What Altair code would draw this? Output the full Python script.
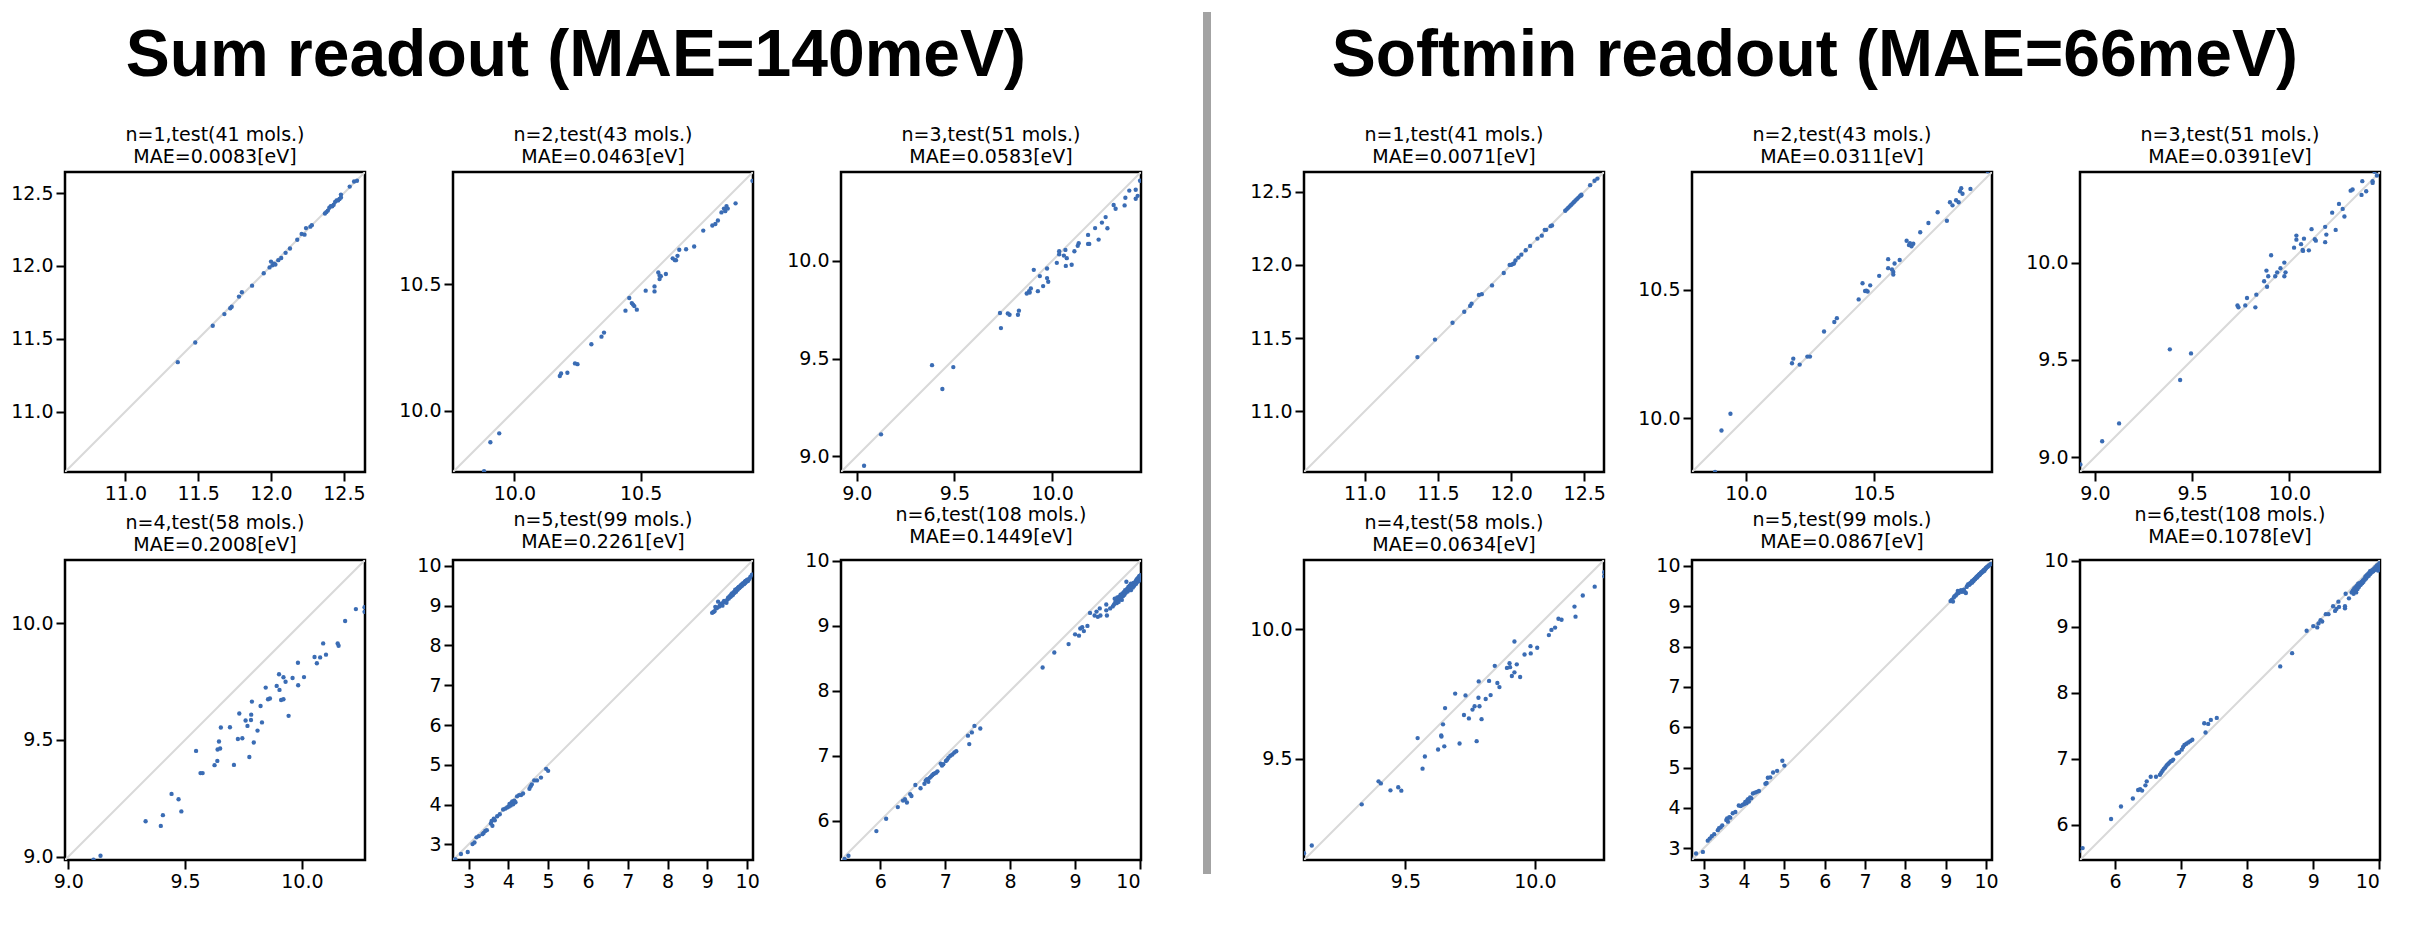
import altair as alt
import pandas as pd

# true energies per test set (shared by both readouts), predictions per readout
x_n1 = [11.36, 11.48, 11.60, 11.68, 11.72, 11.73, 11.78, 11.80, 11.87, 11.95, 11.99, 12.00, 12.01, 12.02,
        12.03, 12.05, 12.07, 12.10, 12.13, 12.18, 12.21, 12.23, 12.24, 12.27, 12.28, 12.37, 12.38, 12.39,
        12.40, 12.41, 12.42, 12.43, 12.44, 12.45, 12.46, 12.47, 12.48, 12.48, 12.54, 12.57, 12.59]
sum_n1 = [11.34, 11.475, 11.59, 11.67, 11.71, 11.72, 11.79, 11.82, 11.865, 11.95, 11.99, 12.03, 12.005, 12.015,
          12.01, 12.04, 12.055, 12.09, 12.12, 12.18, 12.22, 12.215, 12.26, 12.27, 12.28, 12.36, 12.37, 12.38,
          12.40, 12.41, 12.41, 12.42, 12.44, 12.45, 12.45, 12.46, 12.47, 12.49, 12.545, 12.58, 12.585]
soft_n1 = [11.37, 11.49, 11.605, 11.68, 11.72, 11.735, 11.795, 11.80, 11.86, 11.945, 12.00, 12.00, 12.005, 12.01,
           12.03, 12.05, 12.07, 12.10, 12.13, 12.18, 12.20, 12.24, 12.24, 12.265, 12.27, 12.37, 12.38, 12.39,
           12.40, 12.41, 12.42, 12.43, 12.44, 12.45, 12.46, 12.47, 12.475, 12.48, 12.545, 12.575, 12.59]

x_n2 = [9.88, 9.905, 9.94, 10.18, 10.185, 10.21, 10.24, 10.25, 10.305, 10.345, 10.355, 10.44, 10.455, 10.465,
        10.47, 10.475, 10.485, 10.52, 10.555, 10.555, 10.57, 10.575, 10.575, 10.58, 10.60, 10.627, 10.636, 10.64,
        10.646, 10.653, 10.68, 10.712, 10.748, 10.784, 10.796, 10.806, 10.82, 10.83, 10.835, 10.84, 10.845,
        10.876, 10.943]
sum_n2 = [9.76, 9.875, 9.91, 10.137, 10.147, 10.15, 10.187, 10.184, 10.263, 10.293, 10.309, 10.396, 10.446, 10.426,
          10.42, 10.414, 10.40, 10.475, 10.492, 10.472, 10.547, 10.535, 10.521, 10.532, 10.541, 10.603, 10.596,
          10.596, 10.613, 10.637, 10.639, 10.65, 10.713, 10.733, 10.739, 10.753, 10.785, 10.80, 10.79, 10.81,
          10.80, 10.821, 10.91]
soft_n2 = [9.79, 9.952, 10.017, 10.214, 10.232, 10.209, 10.24, 10.24, 10.338, 10.375, 10.39, 10.463, 10.526, 10.496,
           10.497, 10.494, 10.518, 10.555, 10.62, 10.585, 10.58, 10.57, 10.56, 10.603, 10.617, 10.692, 10.675,
           10.682, 10.67, 10.68, 10.725, 10.761, 10.803, 10.77, 10.842, 10.83, 10.85, 10.842, 10.885, 10.897,
           10.875, 10.894, 10.963]

x_n3 = [8.925, 9.037, 9.124, 9.385, 9.438, 9.494, 9.733, 9.738, 9.773, 9.782, 9.825, 9.83, 9.87, 9.882, 9.885,
        9.906, 9.891, 9.927, 9.937, 9.954, 9.974, 9.974, 9.98, 10.024, 10.036, 10.036, 10.06, 10.068, 10.07,
        10.075, 10.10, 10.114, 10.131, 10.136, 10.184, 10.19, 10.184, 10.22, 10.238, 10.255, 10.274, 10.283,
        10.315, 10.325, 10.371, 10.375, 10.395, 10.428, 10.428, 10.438, 10.45]
sum_n3 = [8.90, 8.951, 9.112, 9.466, 9.344, 9.456, 9.733, 9.656, 9.731, 9.724, 9.724, 9.745, 9.833, 9.845, 9.838,
          9.954, 9.859, 9.845, 9.922, 9.871, 9.961, 9.912, 9.893, 9.99, 10.049, 10.034, 10.027, 10.056, 9.974,
          10.014, 9.98, 10.049, 10.077, 10.09, 10.087, 10.087, 10.133, 10.168, 10.109, 10.196, 10.224, 10.167,
          10.286, 10.267, 10.284, 10.323, 10.36, 10.364, 10.318, 10.333, 10.41]
soft_n3 = [8.962, 9.081, 9.173, 9.554, 9.396, 9.533, 9.78, 9.77, 9.78, 9.818, 9.77, 9.835, 9.904, 9.959, 9.876,
           10.038, 9.93, 9.93, 9.95, 9.971, 10.0, 9.93, 9.95, 10.077, 10.139, 10.118, 10.095, 10.065, 10.06,
           10.123, 10.063, 10.172, 10.12, 10.113, 10.105, 10.144, 10.184, 10.257, 10.168, 10.302, 10.276, 10.237,
           10.37, 10.376, 10.348, 10.419, 10.367, 10.419, 10.41, 10.467, 10.448]

x_n4 = [9.108, 9.138, 9.331, 9.396, 9.405, 9.442, 9.472, 9.484, 9.547, 9.566, 9.575, 9.626, 9.638, 9.639, 9.645,
        9.65, 9.653, 9.692, 9.709, 9.726, 9.745, 9.732, 9.759, 9.767, 9.775, 9.782, 9.783, 9.786, 9.794, 9.81,
        9.823, 9.829, 9.845, 9.855, 9.863, 9.892, 9.902, 9.904, 9.911, 9.921, 9.921, 9.93, 9.943, 9.96, 9.983,
        9.984, 10.009, 10.054, 10.064, 10.078, 10.091, 10.103, 10.153, 10.157, 10.185, 10.231, 10.268, 10.268]
sum_n4 = [8.987, 9.004, 9.152, 9.132, 9.178, 9.269, 9.246, 9.194, 9.453, 9.358, 9.358, 9.392, 9.41, 9.459, 9.493,
          9.463, 9.553, 9.554, 9.393, 9.504, 9.507, 9.613, 9.583, 9.56, 9.427, 9.585, 9.608, 9.664, 9.489, 9.54,
          9.645, 9.575, 9.724, 9.674, 9.677, 9.731, 9.781, 9.714, 9.671, 9.674, 9.768, 9.749, 9.603, 9.765, 9.83,
          9.734, 9.769, 9.855, 9.828, 9.853, 9.913, 9.865, 9.913, 9.903, 10.009, 10.06, 10.068, 10.048]
soft_n4 = [9.134, 9.164, 9.323, 9.412, 9.404, 9.377, 9.389, 9.376, 9.579, 9.461, 9.508, 9.535, 9.589, 9.585, 9.632,
           9.547, 9.695, 9.751, 9.558, 9.668, 9.655, 9.744, 9.689, 9.702, 9.567, 9.735, 9.798, 9.702, 9.652, 9.73,
           9.80, 9.745, 9.858, 9.792, 9.776, 9.85, 9.868, 9.853, 9.819, 9.833, 9.952, 9.864, 9.815, 9.902, 9.934,
           9.906, 9.928, 9.977, 9.997, 10.006, 10.04, 10.036, 10.087, 10.048, 10.13, 10.164, 10.204, 10.22]

x_n5 = [2.67, 2.81, 2.98, 3.10, 3.15, 3.20, 3.26, 3.35, 3.38, 3.42, 3.46, 3.56, 3.58, 3.60, 3.635, 3.66, 3.72,
        3.785, 3.87, 3.92, 3.97, 4.01, 4.03, 4.06, 4.08, 4.10, 4.12, 4.15, 4.18, 4.22, 4.27, 4.32, 4.37, 4.53,
        4.56, 4.59, 4.65, 4.72, 4.82, 4.95, 5.00,
        9.12, 9.15, 9.18, 9.20, 9.22, 9.25, 9.27, 9.30, 9.32, 9.35, 9.38, 9.40, 9.42, 9.45, 9.48, 9.50, 9.52,
        9.54, 9.56, 9.58, 9.60, 9.61, 9.62, 9.64, 9.65, 9.66, 9.68, 9.69, 9.70, 9.72, 9.73, 9.74, 9.76, 9.77,
        9.78, 9.79, 9.80, 9.82, 9.83, 9.84, 9.85, 9.87, 9.88, 9.89, 9.90, 9.92, 9.93, 9.94, 9.95, 9.96, 9.98,
        9.99, 10.00, 10.02, 10.04, 10.06, 10.08, 10.12]
sum_n5 = [2.63, 2.76, 2.81, 3.01, 3.05, 3.18, 3.21, 3.26, 3.29, 3.34, 3.36, 3.53, 3.59, 3.47, 3.65, 3.61, 3.71,
          3.76, 3.88, 3.90, 3.93, 3.95, 4.02, 3.98, 4.05, 4.08, 4.01, 4.10, 4.06, 4.21, 4.24, 4.24, 4.28, 4.40,
          4.46, 4.51, 4.61, 4.61, 4.68, 4.90, 4.85,
          8.82, 8.84, 8.86, 8.97, 8.93, 8.95, 9.10, 8.98, 9.02, 9.05, 9.00, 9.08, 9.12, 9.10, 9.07, 9.15, 9.20,
          9.18, 9.24, 9.22, 9.28, 9.25, 9.31, 9.27, 9.30, 9.34, 9.32, 9.36, 9.40, 9.35, 9.38, 9.42, 9.40, 9.45,
          9.43, 9.47, 9.44, 9.46, 9.50, 9.48, 9.52, 9.50, 9.55, 9.53, 9.56, 9.54, 9.58, 9.60, 9.57, 9.62, 9.60,
          9.63, 9.65, 9.62, 9.66, 9.68, 9.72, 9.78]
soft_n5 = [2.76, 2.87, 2.91, 3.19, 3.24, 3.30, 3.35, 3.45, 3.50, 3.52, 3.57, 3.70, 3.74, 3.66, 3.77, 3.76, 3.87,
           3.90, 4.06, 4.05, 4.08, 4.10, 4.15, 4.12, 4.19, 4.22, 4.16, 4.26, 4.24, 4.36, 4.38, 4.40, 4.42, 4.60,
           4.62, 4.75, 4.76, 4.88, 4.92, 5.17, 5.05,
           9.13, 9.16, 9.12, 9.22, 9.25, 9.27, 9.30, 9.38, 9.33, 9.37, 9.40, 9.36, 9.38, 9.41, 9.35, 9.33, 9.48,
           9.52, 9.55, 9.53, 9.57, 9.56, 9.58, 9.60, 9.62, 9.59, 9.64, 9.63, 9.66, 9.68, 9.67, 9.70, 9.72, 9.71,
           9.74, 9.73, 9.76, 9.78, 9.77, 9.80, 9.79, 9.82, 9.84, 9.83, 9.85, 9.87, 9.86, 9.89, 9.90, 9.88, 9.92,
           9.94, 9.95, 9.97, 9.98, 10.00, 10.02, 10.05]

x_n6 = [5.45, 5.51, 5.94, 6.09, 6.27, 6.35, 6.38, 6.41, 6.46, 6.48, 6.54, 6.62, 6.68, 6.70, 6.72, 6.74, 6.76,
        6.78, 6.80, 6.82, 6.84, 6.86, 6.88, 6.93, 6.95, 6.97, 7.01, 7.03, 7.05, 7.08, 7.11, 7.14, 7.17, 7.35,
        7.37, 7.41, 7.45, 7.54, 8.50, 8.68,
        8.90, 9.00, 9.06, 9.08, 9.11, 9.135, 9.19, 9.23, 9.30, 9.33, 9.35, 9.38, 9.39, 9.48, 9.48, 9.49, 9.54,
        9.58, 9.60, 9.61, 9.62, 9.63, 9.64, 9.65, 9.66, 9.67, 9.68, 9.69, 9.70, 9.71, 9.72, 9.73, 9.74, 9.75,
        9.76, 9.77, 9.78, 9.79, 9.79, 9.80, 9.81, 9.82, 9.83, 9.84, 9.85, 9.86, 9.86, 9.87, 9.88, 9.89, 9.90,
        9.91, 9.92, 9.93, 9.94, 9.94, 9.95, 9.96, 9.96, 9.97, 9.97, 9.98, 9.98, 9.99, 9.99, 10.00, 10.00, 10.01]
sum_n6 = [5.41, 5.46, 5.84, 6.03, 6.21, 6.31, 6.33, 6.28, 6.41, 6.38, 6.55, 6.50, 6.57, 6.62, 6.64, 6.60, 6.66,
          6.68, 6.70, 6.72, 6.73, 6.74, 6.76, 6.88, 6.85, 6.87, 6.92, 6.94, 6.97, 7.00, 7.02, 7.05, 7.07, 7.31,
          7.18, 7.36, 7.46, 7.42, 8.36, 8.59,
          8.72, 8.87, 8.85, 8.96, 8.98, 8.92, 9.00, 9.20, 9.16, 9.22, 9.14, 9.27, 9.16, 9.33, 9.24, 9.16, 9.27,
          9.30, 9.33, 9.42, 9.36, 9.38, 9.35, 9.44, 9.40, 9.37, 9.45, 9.42, 9.48, 9.44, 9.40, 9.50, 9.46, 9.52,
          9.48, 9.55, 9.51, 9.68, 9.54, 9.57, 9.53, 9.60, 9.56, 9.62, 9.58, 9.65, 9.55, 9.60, 9.63, 9.59, 9.66,
          9.62, 9.64, 9.68, 9.70, 9.65, 9.72, 9.68, 9.70, 9.74, 9.72, 9.69, 9.75, 9.71, 9.77, 9.73, 9.76, 9.78]
soft_n6 = [5.60, 5.65, 6.09, 6.28, 6.40, 6.53, 6.54, 6.52, 6.60, 6.66, 6.73, 6.73, 6.76, 6.79, 6.82, 6.85, 6.87,
           6.90, 6.92, 6.94, 6.96, 6.97, 6.99, 7.08, 7.09, 7.10, 7.14, 7.18, 7.21, 7.23, 7.25, 7.27, 7.29, 7.54,
           7.40, 7.53, 7.59, 7.62, 8.40, 8.60,
           8.94, 9.01, 8.99, 9.05, 9.10, 9.08, 9.19, 9.19, 9.31, 9.24, 9.27, 9.38, 9.30, 9.31, 9.28, 9.50, 9.43,
           9.52, 9.55, 9.50, 9.58, 9.54, 9.60, 9.52, 9.62, 9.57, 9.65, 9.60, 9.66, 9.63, 9.64, 9.68, 9.66, 9.70,
           9.68, 9.72, 9.71, 9.74, 9.76, 9.73, 9.78, 9.76, 9.80, 9.77, 9.82, 9.80, 9.84, 9.81, 9.85, 9.83, 9.86,
           9.84, 9.88, 9.86, 9.90, 9.87, 9.89, 9.92, 9.88, 9.90, 9.93, 9.91, 9.85, 9.94, 9.88, 9.90, 9.96, 9.92]

mols = [41, 43, 51, 58, 99, 108]
mae_sum = ['0.0083', '0.0463', '0.0583', '0.2008', '0.2261', '0.1449']
mae_soft = ['0.0071', '0.0311', '0.0391', '0.0634', '0.0867', '0.1078']

# axis limits (x and y share them)
lims_sum = [(10.586, 12.645), (9.757, 10.945), (8.919, 10.455), (8.986, 10.27), (2.61, 10.147), (5.395, 10.015)]
lims_soft = [(10.585, 12.635), (9.79, 10.96), (8.923, 10.466), (9.108, 10.267), (2.71, 10.148), (5.47, 10.01)]
ticks_sum = [[11.0, 11.5, 12.0, 12.5], [10.0, 10.5], [9.0, 9.5, 10.0], [9.0, 9.5, 10.0],
             [3, 4, 5, 6, 7, 8, 9, 10], [6, 7, 8, 9, 10]]
ticks_soft = [[11.0, 11.5, 12.0, 12.5], [10.0, 10.5], [9.0, 9.5, 10.0], [9.5, 10.0],
              [3, 4, 5, 6, 7, 8, 9, 10], [6, 7, 8, 9, 10]]
fmts = ['.1f', '.1f', '.1f', '.1f', 'd', 'd']

xs = [x_n1, x_n2, x_n3, x_n4, x_n5, x_n6]
sums = [sum_n1, sum_n2, sum_n3, sum_n4, sum_n5, sum_n6]
softs = [soft_n1, soft_n2, soft_n3, soft_n4, soft_n5, soft_n6]


def panel(x, y, lim, ticks, fmt, n, mol, mae):
    lo, hi = lim
    pts = pd.DataFrame({'true': x, 'pred': y})
    diag = pd.DataFrame({'true': [lo, hi], 'pred': [lo, hi]})
    sc = alt.Scale(domain=[lo, hi], nice=False, zero=False)
    ax = alt.Axis(values=ticks, format=fmt, title=None)
    enc = dict(x=alt.X('true:Q', scale=sc, axis=ax), y=alt.Y('pred:Q', scale=sc, axis=ax))
    line = alt.Chart(diag).mark_line(color='#d9d9d9', strokeWidth=2, clip=True).encode(**enc)
    dots = alt.Chart(pts).mark_circle(size=19, color='#3a6cb4', opacity=1, clip=True).encode(**enc)
    return alt.layer(line, dots).properties(
        width=300, height=300,
        title=alt.Title([f'n={n},test({mol} mols.)', f'MAE={mae}[eV]']))


def group(preds, lims, ticks, maes, heading):
    panels = [panel(xs[i], preds[i], lims[i], ticks[i], fmts[i], i + 1, mols[i], maes[i]) for i in range(6)]
    return alt.concat(*panels, columns=3, spacing=88, bounds='flush').properties(
        title=alt.Title(heading, font='Liberation Sans', fontSize=66, fontWeight='bold',
                        anchor='middle', offset=35, lineHeight=66))


left = group(sums, lims_sum, ticks_sum, mae_sum, 'Sum readout (MAE=140meV)')
right = group(softs, lims_soft, ticks_soft, mae_soft, 'Softmin readout (MAE=66meV)')

# grey divider between the two readouts
sep = alt.Chart(pd.DataFrame({'v': [0]})).mark_rule(color='#a3a3a3', strokeWidth=8).encode(
    x=alt.value(64), y=alt.value(-160), y2=alt.value(702)
).properties(width=105, height=690, view=alt.ViewBackground(strokeOpacity=0))

chart = alt.hconcat(left, sep, right, spacing=0).properties(
    padding={'left': 1, 'top': 0, 'right': 5, 'bottom': 5}
).configure_view(stroke='black', strokeWidth=2.5).configure_axis(
    grid=False, domain=False, tickColor='black', tickWidth=2, tickSize=9,
    labelFont='DejaVu Sans', labelFontSize=19, labelColor='black', labelPadding=3
).configure_title(font='DejaVu Sans', fontSize=19, fontWeight='normal', color='black', lineHeight=22, offset=5)

chart.save('out.html', embed_options={'renderer': 'svg', 'actions': False})
